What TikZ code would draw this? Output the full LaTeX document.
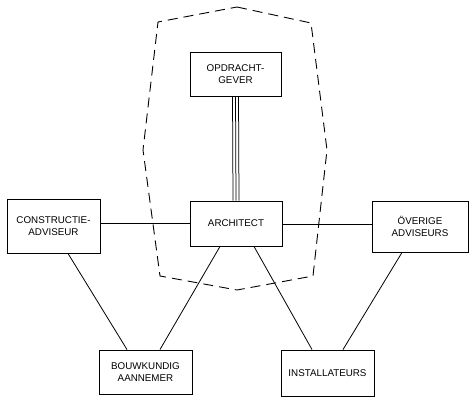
\documentclass[tikz,border=0pt]{standalone}
\usepackage{fontspec}
\setmainfont{Liberation Sans}
\begin{document}
\begin{tikzpicture}[x=1pt,y=-1pt,
  box/.style={draw, line width=0.9pt, minimum width=#1, inner sep=0pt, align=center,
    font=\fontsize{9.8}{12}\selectfont},
  conn/.style={line width=0.8pt},
  zone/.style={line width=0.9pt, dash pattern=on 10pt off 6pt}]
\useasboundingbox (0,0) rectangle (470,409);
\node[box=91pt, minimum height=44pt] (opd) at (235.5,74) {OPDRACHT-\\GEVER};
\node[box=92pt, minimum height=45pt] (arch) at (236,223.5) {ARCHITECT};
\node[box=93pt, minimum height=54pt] (con) at (53.5,226) {CONSTRUCTIE-\\ADVISEUR};
\node[box=96pt, minimum height=51pt] (ove) at (420,226.5) {ÖVERIGE\\ADVISEURS};
\node[box=93pt, minimum height=44pt] (bouw) at (145.5,372) {BOUWKUNDIG\\AANNEMER};
\node[box=93pt, minimum height=46pt] (inst) at (327.5,373) {INSTALLATEURS};
% triple line
\foreach \d in {-3,0,3}
  \draw[conn, line width=0.75pt] ([xshift=\d pt]opd.south) -- ([xshift=\d pt]arch.north);
% horizontals
\draw[conn] (con.east |- 0,223) -- (arch.west |- 0,223);
\draw[conn] (arch.east |- 0,224) -- (ove.west |- 0,224);
% diagonals
\draw[conn] (con.south -| 68,0) -- (bouw.north -| 127,0);
\draw[conn] (arch.south -| 220,0) -- (bouw.north -| 160,0);
\draw[conn] (arch.south -| 254,0) -- (inst.north -| 312,0);
\draw[conn] (ove.south -| 402,0) -- (inst.north -| 343,0);
% dashed zone
\coordinate (z1) at (237,7);
\coordinate (z2) at (311,23);
\coordinate (z3) at (327,150);
\coordinate (z4) at (313,276);
\coordinate (z5) at (237,290);
\coordinate (z6) at (160,276);
\coordinate (z7) at (143,150);
\coordinate (z8) at (158,22);
\draw[zone] (z1) -- (z2) -- (z3) -- (z4) -- (z5) -- (z6) -- (z7) -- (z8) -- cycle;
\end{tikzpicture}
\end{document}
